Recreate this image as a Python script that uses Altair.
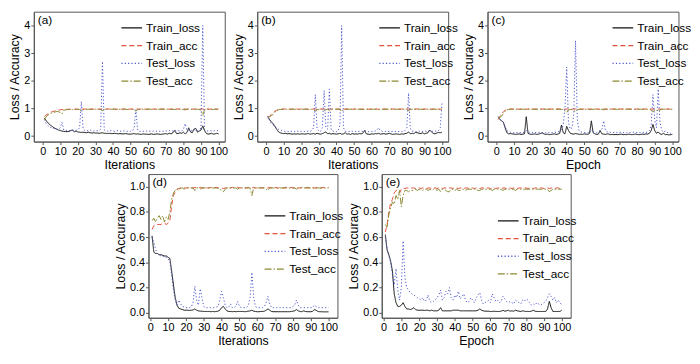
import altair as alt
import pandas as pd

epochs = list(range(1, 101))
SERIES = ["Train_loss", "Train_acc", "Test_loss", "Test_acc"]
COLORS = ["#111111", "#e0503c", "#4a55cc", "#8a8a30"]
DASHES = [[1, 0], [5, 3], [1.2, 2.2], [7, 2, 1.5, 2]]

# ---------------- panel (a) ----------------
a_train_loss = [
    0.65, 0.56, 0.48, 0.42, 0.37, 0.32, 0.28, 0.25, 0.22, 0.20,
    0.18, 0.17, 0.16, 0.16, 0.17, 0.20, 0.22, 0.15, 0.18, 0.15,
    0.14, 0.13, 0.14, 0.13, 0.12, 0.14, 0.12, 0.11, 0.12, 0.11,
    0.11, 0.10, 0.11, 0.12, 0.10, 0.10, 0.09, 0.10, 0.09, 0.09,
    0.10, 0.09, 0.08, 0.09, 0.08, 0.08, 0.09, 0.08, 0.07, 0.07,
    0.08, 0.09, 0.07, 0.08, 0.07, 0.06, 0.08, 0.07, 0.07, 0.06,
    0.07, 0.08, 0.06, 0.07, 0.08, 0.07, 0.06, 0.07, 0.08, 0.09,
    0.07, 0.10, 0.08, 0.12, 0.20, 0.10, 0.09, 0.12, 0.10, 0.14,
    0.08, 0.13, 0.30, 0.15, 0.12, 0.25, 0.28, 0.14, 0.18, 0.22,
    0.37, 0.20, 0.10, 0.07, 0.08, 0.10, 0.07, 0.08, 0.10, 0.08]
a_train_acc = [
    0.70, 0.76, 0.80, 0.84, 0.87, 0.89, 0.91, 0.92, 0.94, 0.95,
    0.96, 0.96, 0.97, 0.97, 0.97, 0.97, 0.98, 0.97, 0.98, 0.97,
    0.98, 0.97, 0.98, 0.98, 0.97, 0.98, 0.98, 0.98, 0.97, 0.98,
    0.98, 0.97, 0.98, 0.98, 0.97, 0.98, 0.98, 0.98, 0.97, 0.98,
    0.98, 0.97, 0.98, 0.98, 0.97, 0.98, 0.98, 0.98, 0.97, 0.98,
    0.98, 0.97, 0.98, 0.98, 0.97, 0.98, 0.98, 0.98, 0.97, 0.98,
    0.98, 0.97, 0.98, 0.98, 0.97, 0.98, 0.98, 0.98, 0.97, 0.98,
    0.98, 0.97, 0.98, 0.98, 0.97, 0.98, 0.98, 0.98, 0.97, 0.98,
    0.98, 0.97, 0.98, 0.98, 0.97, 0.98, 0.98, 0.98, 0.97, 0.98,
    0.98, 0.97, 0.98, 0.98, 0.97, 0.98, 0.98, 0.98, 0.97, 0.98]
a_test_loss = [
    0.60, 0.45, 0.38, 0.33, 0.30, 0.28, 0.26, 0.25, 0.24, 0.30,
    0.50, 0.22, 0.20, 0.21, 0.19, 0.20, 0.22, 0.20, 0.21, 0.22,
    0.30, 1.25, 0.25, 0.20, 0.19, 0.20, 0.22, 0.19, 0.18, 0.20,
    0.19, 0.20, 0.25, 2.70, 0.22, 0.19, 0.18, 0.20, 0.19, 0.18,
    0.17, 0.19, 0.20, 0.18, 0.17, 0.19, 0.18, 0.17, 0.18, 0.17,
    0.18, 0.30, 0.95, 0.22, 0.17, 0.18, 0.17, 0.19, 0.18, 0.17,
    0.18, 0.17, 0.18, 0.19, 0.17, 0.18, 0.17, 0.18, 0.17, 0.19,
    0.18, 0.20, 0.18, 0.19, 0.22, 0.18, 0.20, 0.19, 0.18, 0.25,
    0.45, 0.20, 0.22, 0.20, 0.19, 0.24, 0.21, 0.20, 0.22, 0.30,
    4.00, 0.25, 0.19, 0.18, 0.20, 0.19, 0.18, 0.20, 0.19, 0.21]
a_test_acc = [
    0.60, 0.70, 0.76, 0.80, 0.83, 0.85, 0.87, 0.89, 0.88, 0.86,
    0.80, 0.93, 0.95, 0.96, 0.96, 0.97, 0.96, 0.97, 0.97, 0.96,
    0.96, 0.90, 0.96, 0.97, 0.97, 0.97, 0.96, 0.97, 0.97, 0.97,
    0.97, 0.97, 0.96, 0.92, 0.96, 0.97, 0.97, 0.97, 0.97, 0.97,
    0.97, 0.96, 0.97, 0.97, 0.97, 0.97, 0.97, 0.96, 0.97, 0.97,
    0.97, 0.96, 0.90, 0.96, 0.97, 0.97, 0.97, 0.97, 0.96, 0.97,
    0.97, 0.97, 0.97, 0.96, 0.97, 0.97, 0.97, 0.97, 0.97, 0.97,
    0.97, 0.96, 0.97, 0.97, 0.96, 0.97, 0.97, 0.97, 0.96, 0.96,
    0.95, 0.97, 0.97, 0.96, 0.97, 0.96, 0.97, 0.97, 0.96, 0.94,
    0.75, 0.95, 0.97, 0.97, 0.97, 0.97, 0.96, 0.97, 0.97, 0.97]

# ---------------- panel (b) ----------------
b_train_loss = [
    0.70, 0.60, 0.52, 0.45, 0.35, 0.25, 0.16, 0.12, 0.10, 0.09,
    0.10, 0.08, 0.09, 0.08, 0.07, 0.08, 0.07, 0.08, 0.07, 0.08,
    0.08, 0.07, 0.08, 0.09, 0.07, 0.08, 0.09, 0.07, 0.10, 0.08,
    0.07, 0.09, 0.12, 0.15, 0.08, 0.10, 0.07, 0.09, 0.08, 0.07,
    0.08, 0.10, 0.07, 0.08, 0.12, 0.07, 0.08, 0.06, 0.09, 0.07,
    0.08, 0.07, 0.09, 0.08, 0.10, 0.20, 0.08, 0.07, 0.06, 0.08,
    0.07, 0.09, 0.08, 0.10, 0.07, 0.08, 0.09, 0.07, 0.08, 0.10,
    0.08, 0.06, 0.07, 0.08, 0.07, 0.06, 0.08, 0.07, 0.09, 0.10,
    0.15, 0.08, 0.10, 0.09, 0.13, 0.12, 0.10, 0.09, 0.12, 0.08,
    0.10, 0.12, 0.22, 0.15, 0.10, 0.08, 0.11, 0.13, 0.12, 0.14]
b_train_acc = [
    0.68, 0.72, 0.78, 0.85, 0.90, 0.93, 0.96, 0.97, 0.97, 0.98,
    0.98, 0.98, 0.98, 0.97, 0.98, 0.98, 0.98, 0.98, 0.97, 0.98,
    0.98, 0.98, 0.98, 0.97, 0.98, 0.98, 0.98, 0.98, 0.97, 0.98,
    0.98, 0.98, 0.98, 0.97, 0.98, 0.98, 0.98, 0.98, 0.97, 0.98,
    0.98, 0.98, 0.98, 0.97, 0.98, 0.98, 0.98, 0.98, 0.97, 0.98,
    0.98, 0.98, 0.98, 0.97, 0.98, 0.98, 0.98, 0.98, 0.97, 0.98,
    0.98, 0.98, 0.98, 0.97, 0.98, 0.98, 0.98, 0.98, 0.97, 0.98,
    0.98, 0.98, 0.98, 0.97, 0.98, 0.98, 0.98, 0.98, 0.97, 0.98,
    0.98, 0.98, 0.98, 0.97, 0.98, 0.98, 0.98, 0.98, 0.97, 0.98,
    0.98, 0.98, 0.98, 0.97, 0.98, 0.98, 0.98, 0.98, 0.97, 0.98]
b_test_loss = [
    0.72, 0.55, 0.45, 0.40, 0.35, 0.30, 0.25, 0.22, 0.20, 0.18,
    0.17, 0.18, 0.16, 0.17, 0.18, 0.16, 0.17, 0.18, 0.16, 0.17,
    0.18, 0.16, 0.17, 0.18, 0.17, 0.20, 0.30, 1.50, 0.25, 0.18,
    0.17, 0.30, 1.65, 0.30, 0.25, 1.70, 0.22, 0.18, 0.17, 0.16,
    0.18, 0.40, 4.00, 0.30, 0.18, 0.17, 0.16, 0.18, 0.17, 0.16,
    0.17, 0.16, 0.17, 0.18, 0.17, 0.20, 0.18, 0.16, 0.17, 0.16,
    0.17, 0.18, 0.22, 0.30, 0.20, 0.17, 0.16, 0.17, 0.16, 0.17,
    0.16, 0.17, 0.16, 0.17, 0.16, 0.17, 0.16, 0.18, 0.20, 0.30,
    1.55, 0.25, 0.18, 0.17, 0.16, 0.17, 0.18, 0.16, 0.17, 0.18,
    0.17, 0.18, 0.20, 0.18, 0.17, 0.18, 0.17, 0.20, 0.30, 1.20]
b_test_acc = [
    0.65, 0.70, 0.74, 0.78, 0.86, 0.92, 0.95, 0.96, 0.97, 0.97,
    0.97, 0.97, 0.96, 0.97, 0.97, 0.97, 0.97, 0.96, 0.97, 0.97,
    0.97, 0.97, 0.97, 0.96, 0.97, 0.97, 0.95, 0.90, 0.96, 0.97,
    0.97, 0.96, 0.90, 0.96, 0.97, 0.92, 0.96, 0.97, 0.97, 0.97,
    0.97, 0.96, 0.88, 0.96, 0.97, 0.97, 0.97, 0.97, 0.97, 0.97,
    0.97, 0.97, 0.97, 0.97, 0.96, 0.96, 0.97, 0.97, 0.97, 0.97,
    0.97, 0.97, 0.97, 0.95, 0.97, 0.97, 0.97, 0.97, 0.97, 0.97,
    0.97, 0.97, 0.97, 0.97, 0.97, 0.97, 0.97, 0.97, 0.97, 0.96,
    0.92, 0.96, 0.97, 0.97, 0.97, 0.97, 0.97, 0.97, 0.97, 0.97,
    0.97, 0.97, 0.96, 0.97, 0.97, 0.97, 0.97, 0.97, 0.96, 0.92]

# ---------------- panel (c) ----------------
c_train_loss = [
    0.70, 0.60, 0.55, 0.50, 0.30, 0.12, 0.08, 0.09, 0.08, 0.07,
    0.06, 0.07, 0.08, 0.06, 0.07, 0.08, 0.70, 0.10, 0.07, 0.06,
    0.07, 0.08, 0.06, 0.07, 0.09, 0.12, 0.08, 0.06, 0.07, 0.05,
    0.06, 0.07, 0.08, 0.06, 0.07, 0.10, 0.40, 0.12, 0.08, 0.35,
    0.20, 0.10, 0.08, 0.07, 0.09, 0.08, 0.06, 0.07, 0.06, 0.08,
    0.07, 0.06, 0.10, 0.55, 0.12, 0.08, 0.06, 0.07, 0.20, 0.08,
    0.07, 0.06, 0.08, 0.07, 0.05, 0.06, 0.05, 0.06, 0.05, 0.06,
    0.07, 0.05, 0.06, 0.05, 0.07, 0.06, 0.05, 0.06, 0.07, 0.06,
    0.05, 0.06, 0.07, 0.06, 0.08, 0.07, 0.10, 0.20, 0.42, 0.20,
    0.10, 0.15, 0.08, 0.06, 0.10, 0.05, 0.06, 0.04, 0.05, 0.06]
c_train_acc = [
    0.60, 0.70, 0.80, 0.88, 0.93, 0.97, 0.97, 0.98, 0.98, 0.98,
    0.98, 0.98, 0.97, 0.98, 0.98, 0.98, 0.97, 0.98, 0.98, 0.98,
    0.98, 0.98, 0.97, 0.98, 0.98, 0.98, 0.98, 0.98, 0.97, 0.98,
    0.98, 0.98, 0.97, 0.98, 0.98, 0.98, 0.98, 0.98, 0.97, 0.98,
    0.98, 0.98, 0.97, 0.98, 0.98, 0.98, 0.98, 0.98, 0.97, 0.98,
    0.98, 0.98, 0.97, 0.98, 0.98, 0.98, 0.98, 0.98, 0.97, 0.98,
    0.98, 0.98, 0.97, 0.98, 0.98, 0.98, 0.98, 0.98, 0.97, 0.98,
    0.98, 0.98, 0.97, 0.98, 0.98, 0.98, 0.98, 0.98, 0.97, 0.98,
    0.98, 0.98, 0.97, 0.98, 0.98, 0.98, 0.98, 0.98, 0.97, 0.98,
    0.98, 0.98, 0.97, 0.98, 0.98, 0.98, 0.98, 0.98, 0.97, 0.98]
c_test_loss = [
    0.70, 0.62, 0.55, 0.50, 0.35, 0.20, 0.15, 0.14, 0.13, 0.12,
    0.13, 0.12, 0.13, 0.12, 0.13, 0.14, 0.20, 0.15, 0.13, 0.12,
    0.13, 0.12, 0.13, 0.14, 0.13, 0.12, 0.13, 0.12, 0.13, 0.12,
    0.13, 0.12, 0.14, 0.13, 0.15, 0.18, 0.25, 0.40, 1.00, 2.50,
    0.50, 0.25, 0.30, 0.80, 3.45, 0.60, 0.20, 0.15, 0.14, 0.13,
    0.13, 0.12, 0.14, 0.20, 0.15, 0.13, 0.12, 0.14, 0.20, 0.25,
    0.55, 0.20, 0.15, 0.14, 0.13, 0.12, 0.13, 0.14, 0.12, 0.13,
    0.14, 0.12, 0.13, 0.12, 0.13, 0.12, 0.13, 0.14, 0.13, 0.12,
    0.13, 0.12, 0.13, 0.14, 0.13, 0.15, 0.20, 0.40, 1.50, 0.60,
    0.30, 1.70, 0.50, 0.20, 0.15, 0.18, 0.12, 0.14, 0.10, 0.12]
c_test_acc = [
    0.65, 0.68, 0.72, 0.82, 0.90, 0.95, 0.96, 0.97, 0.97, 0.97,
    0.97, 0.97, 0.97, 0.97, 0.97, 0.97, 0.95, 0.97, 0.97, 0.97,
    0.97, 0.97, 0.97, 0.97, 0.97, 0.97, 0.97, 0.97, 0.97, 0.97,
    0.97, 0.97, 0.97, 0.97, 0.97, 0.97, 0.96, 0.96, 0.90, 0.85,
    0.95, 0.96, 0.96, 0.92, 0.88, 0.95, 0.97, 0.97, 0.97, 0.97,
    0.97, 0.97, 0.97, 0.96, 0.97, 0.97, 0.97, 0.97, 0.97, 0.97,
    0.95, 0.97, 0.97, 0.97, 0.97, 0.97, 0.97, 0.97, 0.97, 0.97,
    0.97, 0.97, 0.97, 0.97, 0.97, 0.97, 0.97, 0.97, 0.97, 0.97,
    0.97, 0.97, 0.97, 0.97, 0.97, 0.97, 0.97, 0.95, 0.88, 0.94,
    0.96, 0.88, 0.95, 0.97, 0.97, 0.97, 0.97, 0.97, 0.97, 0.97]

# ---------------- panel (d) ----------------
d_train_loss = [
    0.61, 0.48, 0.47, 0.47, 0.46, 0.46, 0.455, 0.45, 0.45, 0.44,
    0.43, 0.33, 0.22, 0.12, 0.06, 0.035, 0.03, 0.025, 0.02, 0.02,
    0.02, 0.018, 0.02, 0.022, 0.03, 0.02, 0.015, 0.012, 0.012, 0.01,
    0.01, 0.01, 0.01, 0.008, 0.01, 0.008, 0.01, 0.012, 0.02, 0.04,
    0.05, 0.03, 0.015, 0.01, 0.01, 0.008, 0.01, 0.008, 0.01, 0.01,
    0.01, 0.01, 0.008, 0.01, 0.012, 0.015, 0.02, 0.012, 0.01, 0.008,
    0.008, 0.01, 0.01, 0.012, 0.02, 0.03, 0.02, 0.01, 0.008, 0.008,
    0.008, 0.008, 0.008, 0.008, 0.008, 0.008, 0.008, 0.008, 0.01, 0.012,
    0.015, 0.025, 0.015, 0.01, 0.008, 0.015, 0.01, 0.008, 0.008, 0.008,
    0.01, 0.025, 0.02, 0.01, 0.008, 0.008, 0.007, 0.007, 0.007, 0.007]
d_train_acc = [
    0.66, 0.69, 0.70, 0.70, 0.70, 0.70, 0.71, 0.71, 0.70, 0.71,
    0.73, 0.85, 0.93, 0.96, 0.98, 0.985, 0.99, 0.99, 0.99, 0.99,
    0.99, 0.995, 0.99, 0.99, 0.995, 0.99, 0.99, 0.995, 0.99, 0.99,
    0.995, 0.99, 0.99, 0.995, 0.99, 0.99, 0.995, 0.99, 0.99, 0.99,
    0.985, 0.99, 0.995, 0.99, 0.99, 0.995, 0.99, 0.99, 0.995, 0.99,
    0.99, 0.995, 0.99, 0.99, 0.995, 0.99, 0.99, 0.995, 0.99, 0.99,
    0.995, 0.99, 0.99, 0.995, 0.99, 0.99, 0.995, 0.99, 0.99, 0.995,
    0.99, 0.99, 0.995, 0.99, 0.99, 0.995, 0.99, 0.99, 0.995, 0.99,
    0.99, 0.995, 0.99, 0.99, 0.995, 0.99, 0.99, 0.995, 0.99, 0.99,
    0.995, 0.99, 0.99, 0.995, 0.99, 0.99, 0.995, 0.99, 0.99, 0.995]
d_test_loss = [
    0.60, 0.56, 0.50, 0.47, 0.46, 0.45, 0.45, 0.44, 0.44, 0.43,
    0.40, 0.30, 0.18, 0.10, 0.06, 0.10, 0.07, 0.05, 0.045, 0.04,
    0.04, 0.04, 0.045, 0.08, 0.21, 0.10, 0.06, 0.19, 0.12, 0.05,
    0.04, 0.04, 0.04, 0.04, 0.04, 0.04, 0.045, 0.05, 0.10, 0.17,
    0.12, 0.06, 0.04, 0.045, 0.07, 0.04, 0.04, 0.05, 0.09, 0.05,
    0.04, 0.04, 0.04, 0.04, 0.06, 0.12, 0.32, 0.12, 0.05, 0.04,
    0.04, 0.04, 0.04, 0.05, 0.08, 0.13, 0.07, 0.04, 0.04, 0.04,
    0.04, 0.04, 0.04, 0.04, 0.04, 0.04, 0.04, 0.04, 0.04, 0.05,
    0.06, 0.10, 0.06, 0.04, 0.04, 0.04, 0.04, 0.04, 0.04, 0.04,
    0.04, 0.06, 0.05, 0.04, 0.04, 0.04, 0.04, 0.04, 0.04, 0.04]
d_test_acc = [
    0.73, 0.75, 0.72, 0.75, 0.77, 0.74, 0.77, 0.72, 0.76, 0.74,
    0.80, 0.90, 0.95, 0.97, 0.98, 0.97, 0.99, 0.99, 0.98, 0.99,
    0.99, 0.99, 0.99, 0.99, 0.97, 0.99, 0.99, 0.98, 0.99, 0.99,
    0.99, 0.99, 0.99, 0.99, 0.99, 0.99, 0.99, 0.99, 0.98, 0.97,
    0.96, 0.98, 0.99, 0.99, 0.99, 0.99, 0.99, 0.99, 0.98, 0.99,
    0.99, 0.99, 0.99, 0.99, 0.99, 0.99, 0.93, 0.99, 0.99, 0.99,
    0.99, 0.99, 0.99, 0.99, 0.98, 0.97, 0.99, 0.99, 0.99, 0.99,
    0.99, 0.99, 0.99, 0.99, 0.99, 0.99, 0.99, 0.99, 0.99, 0.99,
    0.99, 0.98, 0.99, 0.99, 0.99, 0.99, 0.99, 0.99, 0.99, 0.99,
    0.99, 0.98, 0.99, 0.99, 0.99, 0.99, 0.99, 0.99, 0.99, 0.99]

# ---------------- panel (e) ----------------
e_train_loss = [
    0.62, 0.50, 0.46, 0.41, 0.33, 0.15, 0.08, 0.05, 0.05, 0.06,
    0.08, 0.05, 0.03, 0.03, 0.025, 0.03, 0.04, 0.025, 0.02, 0.02,
    0.02, 0.02, 0.018, 0.02, 0.02, 0.015, 0.02, 0.015, 0.015, 0.015,
    0.02, 0.04, 0.015, 0.015, 0.015, 0.015, 0.015, 0.015, 0.02, 0.02,
    0.02, 0.02, 0.015, 0.015, 0.015, 0.015, 0.015, 0.015, 0.015, 0.015,
    0.015, 0.015, 0.02, 0.03, 0.02, 0.015, 0.012, 0.012, 0.012, 0.01,
    0.01, 0.012, 0.01, 0.01, 0.01, 0.012, 0.02, 0.012, 0.015, 0.02,
    0.012, 0.015, 0.012, 0.02, 0.015, 0.012, 0.01, 0.015, 0.012, 0.01,
    0.01, 0.01, 0.012, 0.02, 0.012, 0.01, 0.01, 0.01, 0.01, 0.01,
    0.01, 0.03, 0.09, 0.04, 0.01, 0.01, 0.01, 0.01, 0.01, 0.02]
e_train_acc = [
    0.64, 0.70, 0.80, 0.87, 0.90, 0.95, 0.97, 0.97, 0.95, 0.98,
    0.99, 0.985, 0.99, 0.99, 0.985, 0.99, 0.99, 0.985, 0.99, 0.99,
    0.985, 0.99, 0.99, 0.985, 0.99, 0.99, 0.985, 0.99, 0.99, 0.985,
    0.99, 0.99, 0.985, 0.99, 0.99, 0.985, 0.99, 0.99, 0.985, 0.99,
    0.99, 0.985, 0.99, 0.99, 0.985, 0.99, 0.99, 0.985, 0.99, 0.99,
    0.985, 0.99, 0.99, 0.985, 0.99, 0.99, 0.985, 0.99, 0.99, 0.985,
    0.99, 0.99, 0.985, 0.99, 0.99, 0.985, 0.99, 0.99, 0.985, 0.99,
    0.99, 0.985, 0.99, 0.99, 0.985, 0.99, 0.99, 0.985, 0.99, 0.99,
    0.985, 0.99, 0.99, 0.985, 0.99, 0.99, 0.985, 0.99, 0.99, 0.985,
    0.99, 0.99, 0.985, 0.99, 0.99, 0.985, 0.99, 0.99, 0.985, 0.99]
e_test_loss = [
    0.60, 0.50, 0.45, 0.40, 0.30, 0.22, 0.35, 0.18, 0.10, 0.20,
    0.57, 0.28, 0.20, 0.18, 0.16, 0.15, 0.14, 0.13, 0.12, 0.11,
    0.10, 0.12, 0.09, 0.10, 0.14, 0.09, 0.08, 0.09, 0.10, 0.12,
    0.14, 0.18, 0.10, 0.12, 0.17, 0.15, 0.20, 0.12, 0.10, 0.14,
    0.12, 0.17, 0.11, 0.13, 0.15, 0.10, 0.08, 0.09, 0.12, 0.10,
    0.08, 0.12, 0.14, 0.16, 0.10, 0.07, 0.08, 0.09, 0.10, 0.08,
    0.15, 0.12, 0.09, 0.10, 0.08, 0.09, 0.13, 0.11, 0.09, 0.08,
    0.09, 0.08, 0.07, 0.10, 0.09, 0.08, 0.07, 0.10, 0.09, 0.11,
    0.10, 0.08, 0.06, 0.07, 0.06, 0.08, 0.07, 0.06, 0.07, 0.08,
    0.09, 0.12, 0.15, 0.13, 0.10, 0.12, 0.08, 0.10, 0.08, 0.06]
e_test_acc = [
    0.70, 0.68, 0.78, 0.83, 0.88, 0.86, 0.93, 0.90, 0.97, 0.84,
    0.93, 0.97, 0.97, 0.96, 0.97, 0.97, 0.97, 0.98, 0.97, 0.98,
    0.97, 0.97, 0.98, 0.98, 0.97, 0.98, 0.97, 0.98, 0.98, 0.97,
    0.98, 0.96, 0.98, 0.98, 0.97, 0.96, 0.96, 0.98, 0.98, 0.97,
    0.98, 0.97, 0.97, 0.98, 0.98, 0.97, 0.98, 0.98, 0.98, 0.98,
    0.98, 0.98, 0.97, 0.97, 0.98, 0.98, 0.98, 0.98, 0.98, 0.98,
    0.97, 0.98, 0.98, 0.98, 0.98, 0.98, 0.97, 0.98, 0.98, 0.98,
    0.98, 0.98, 0.98, 0.97, 0.98, 0.98, 0.98, 0.98, 0.98, 0.98,
    0.98, 0.98, 0.98, 0.98, 0.98, 0.98, 0.98, 0.98, 0.98, 0.98,
    0.98, 0.98, 0.96, 0.97, 0.98, 0.98, 0.98, 0.98, 0.98, 0.98]

FONT = "Liberation Sans"
X_TICKS = list(range(0, 101, 10))


def panel(label, series, xtitle, xdomain, ydomain, yticks, yfmt, w, h, lx, ly):
    rows = []
    for name, vals in zip(SERIES, series):
        for xi, v in zip(epochs, vals):
            rows.append({"x": xi, "v": v, "s": name})
    df = pd.DataFrame(rows)
    leg = alt.Legend(
        title=None, orient="none", legendX=lx, legendY=ly,
        symbolType="stroke", symbolSize=441, symbolStrokeWidth=1.3,
        labelFontSize=12, labelFont=FONT, labelColor="#000",
        labelOffset=3, rowPadding=0, padding=0, labelLimit=200,
    )
    lines = alt.Chart(df).mark_line(strokeWidth=1, clip=True).encode(
        x=alt.X("x:Q", scale=alt.Scale(domain=xdomain, nice=False, zero=False),
                axis=alt.Axis(values=X_TICKS, title=xtitle)),
        y=alt.Y("v:Q", scale=alt.Scale(domain=ydomain, nice=False, zero=False),
                axis=alt.Axis(values=yticks, format=yfmt, title="Loss / Accuracy")),
        color=alt.Color("s:N", scale=alt.Scale(domain=SERIES, range=COLORS), legend=leg),
        strokeDash=alt.StrokeDash("s:N", scale=alt.Scale(domain=SERIES, range=DASHES), legend=leg),
    )
    tag = alt.Chart(pd.DataFrame({"t": [label]})).mark_text(
        align="left", baseline="top", fontSize=12, font=FONT, color="#000"
    ).encode(x=alt.value(4), y=alt.value(3), text="t:N")
    return alt.layer(lines, tag).properties(width=w, height=h)


TW, TH = 194, 132
BW, BH = 192, 146
top_dom = [-0.2, 4.5]
top_ticks = [0, 1, 2, 3, 4]
bot_dom = [-0.04, 1.1]
bot_ticks = [0, 0.2, 0.4, 0.6, 0.8, 1.0]

pa = panel("(a)", [a_train_loss, a_train_acc, a_test_loss, a_test_acc], "Iterations",
           [-5, 103.5], top_dom, top_ticks, "d", TW, TH, 88, 5)
pb = panel("(b)", [b_train_loss, b_train_acc, b_test_loss, b_test_acc], "Iterations",
           [-5, 103.5], top_dom, top_ticks, "d", TW, TH, 123, 5)
pc = panel("(c)", [c_train_loss, c_train_acc, c_test_loss, c_test_acc], "Epoch",
           [-5, 103.5], top_dom, top_ticks, "d", TW, TH, 126, 5)
pd_ = panel("(d)", [d_train_loss, d_train_acc, d_test_loss, d_test_acc], "Iterations",
            [-1, 105], bot_dom, bot_ticks, ".1f", BW, BH, 117, 31)
pe = panel("(e)", [e_train_loss, e_train_acc, e_test_loss, e_test_acc], "Epoch",
           [-1, 105], bot_dom, bot_ticks, ".1f", BW, BH, 117, 36)


def indep(c):
    return c.resolve_scale(color="independent", strokeDash="independent").resolve_legend(
        color="independent", strokeDash="independent")


top = indep(alt.hconcat(pa, pb, pc, spacing=3))
bottom = indep(alt.hconcat(pd_, pe, spacing=3))

chart = indep(alt.vconcat(top, bottom, spacing=2, center=True)).properties(
    padding=0, background="white"
).configure_view(
    stroke="#555", strokeWidth=1
).configure_axis(
    grid=False, domainColor="#555", tickColor="#555", tickSize=3,
    labelFont=FONT, labelFontSize=11, labelColor="#000", labelPadding=1,
    titleFont=FONT, titleFontSize=12.5, titleColor="#000", titleFontWeight="normal",
    titlePadding=2,
)

chart.save("out.html", embed_options={"renderer": "svg", "actions": False})
